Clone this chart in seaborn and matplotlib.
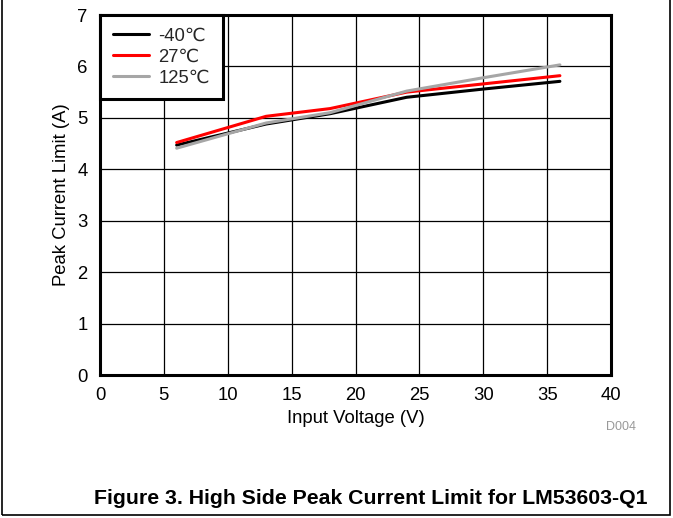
import numpy as np
import pandas as pd
import matplotlib.pyplot as plt
import seaborn as sns
from matplotlib.patches import Rectangle

# ── Data ─────────────────────────────────────────────────────
vin = [6, 13, 18, 24, 30, 36]
i_m40 = [4.47, 4.88, 5.08, 5.40, 5.56, 5.71]
i_27 = [4.52, 5.03, 5.18, 5.50, 5.66, 5.82]
i_125 = [4.41, 4.90, 5.10, 5.52, 5.78, 6.03]
temps = ['-40\u2103', '27\u2103', '125\u2103']
colors = ['black', '#ff0000', '#a6a6a6']

rows = []
for t, vals in zip(temps, [i_m40, i_27, i_125]):
    for v, i in zip(vin, vals):
        rows.append([t, v, i])
df = pd.DataFrame(rows, columns=['Temp', 'Vin', 'Ilim'])

# ── Plot ─────────────────────────────────────────────────────
sns.set_theme(style='white')
plt.rcParams['font.family'] = ['Liberation Sans', 'DejaVu Sans']

fig = plt.figure(figsize=(6.73, 5.18), dpi=100)
ax = fig.add_axes([100 / 673, 1 - 375 / 518, 511 / 673, 360 / 518])

sns.lineplot(data=df, x='Vin', y='Ilim', hue='Temp', hue_order=temps,
             palette=colors, linewidth=2.2, ax=ax, legend=False)

fs = 13.3
ax.set_xlim(0, 40)
ax.set_ylim(0, 7)
ax.set_xticks(range(0, 41, 5))
ax.set_yticks(range(0, 8))
ax.grid(True, color='black', linewidth=0.9)
for s in ax.spines.values():
    s.set_linewidth(2.2)
    s.set_color('black')
ax.tick_params(labelsize=fs, length=0, pad=9, colors='black')
ax.set_xlabel('Input Voltage (V)', fontsize=fs, labelpad=4, color='black')
ax.set_ylabel('Peak Current Limit (A)', fontsize=fs, labelpad=5, color='black')

handles = [plt.Line2D([], [], color=c, linewidth=2.2) for c in colors]
leg = ax.legend(handles, temps, loc='upper left', fontsize=fs,
                frameon=True, fancybox=False, framealpha=1,
                borderaxespad=0, handlelength=1.95, handletextpad=0.5,
                labelspacing=0.2, borderpad=0.7)
leg.get_frame().set_edgecolor('black')
leg.get_frame().set_linewidth(2.2)

fig.text(621 / 673, 1 - 427 / 518, 'D004', fontsize=9, color='#999999',
         ha='center', va='center')
fig.text(648 / 673, 1 - 499 / 518,
         'Figure 3. High Side Peak Current Limit for LM53603-Q1',
         fontsize=15.3, fontweight='bold', ha='right', va='center', color='black')

# outer frame of the figure
fig.patches.append(Rectangle((2 / 673, 3 / 518), 668 / 673, 1.2, fill=False,
                             edgecolor='black', linewidth=1.2,
                             transform=fig.transFigure, figure=fig))

plt.savefig('out.png', dpi=100)
